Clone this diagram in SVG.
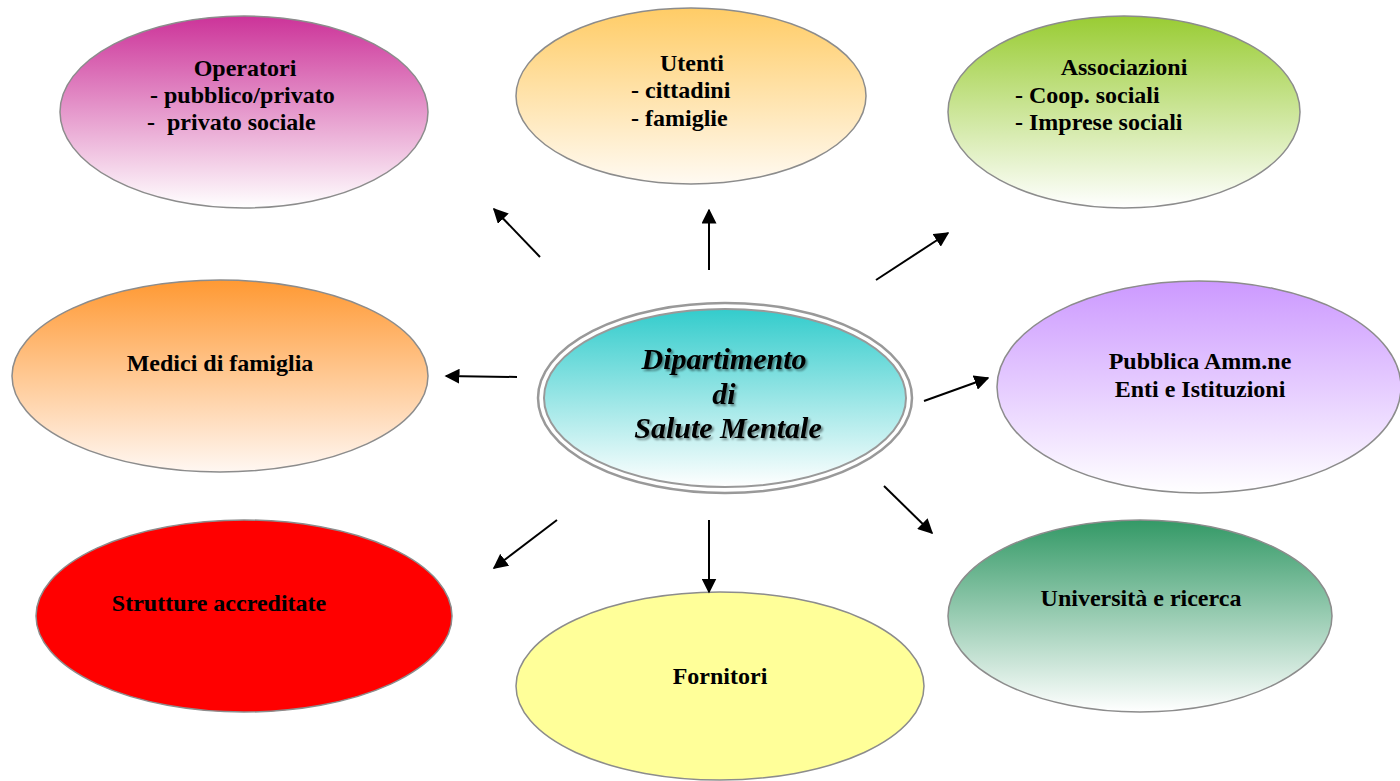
<svg xmlns="http://www.w3.org/2000/svg" width="1400" height="781" viewBox="0 0 1400 781">
  <style>
    .node { stroke: #8c8c8c; stroke-width: 1.5; }
    .lbl { font-family: "Liberation Serif", "Times New Roman", serif; font-weight: bold; font-size: 24px; fill: #000; white-space: pre; }
    .mid { text-anchor: middle; }
    .title { font-family: "Liberation Serif", "Times New Roman", serif; font-weight: bold; font-style: italic; font-size: 30px; fill: #000; text-anchor: middle; }
    .conn line { stroke: #000; stroke-width: 2; marker-end: url(#arrow); }
  </style>
  <defs>
    <marker id="arrow" viewBox="0 0 10 10" refX="9" refY="5" markerWidth="7.5" markerHeight="7.5" orient="auto" markerUnits="strokeWidth">
      <path d="M0,0 L10,5 L0,10 z" fill="#000"/>
    </marker>
    <linearGradient id="gMagenta" x1="0" y1="0" x2="0" y2="1">
      <stop offset="0" stop-color="#cc3399"/><stop offset="1" stop-color="#ffffff"/>
    </linearGradient>
    <linearGradient id="gGold" x1="0" y1="0" x2="0" y2="1">
      <stop offset="0" stop-color="#ffcc66"/><stop offset="1" stop-color="#fffaf2"/>
    </linearGradient>
    <linearGradient id="gLime" x1="0" y1="0" x2="0" y2="1">
      <stop offset="0" stop-color="#99cc33"/><stop offset="1" stop-color="#ffffff"/>
    </linearGradient>
    <linearGradient id="gOrange" x1="0" y1="0" x2="0" y2="1">
      <stop offset="0" stop-color="#ff9933"/><stop offset="1" stop-color="#fff7f2"/>
    </linearGradient>
    <linearGradient id="gLilac" x1="0" y1="0" x2="0" y2="1">
      <stop offset="0" stop-color="#cc99ff"/><stop offset="1" stop-color="#ffffff"/>
    </linearGradient>
    <linearGradient id="gGreen" x1="0" y1="0" x2="0" y2="1">
      <stop offset="0" stop-color="#339966"/><stop offset="1" stop-color="#ffffff"/>
    </linearGradient>
    <linearGradient id="gTeal" x1="0" y1="0" x2="0" y2="1">
      <stop offset="0" stop-color="#33cccc"/><stop offset="1" stop-color="#ffffff"/>
    </linearGradient>
    <filter id="shadow" x="-10%" y="-10%" width="120%" height="130%">
      <feGaussianBlur in="SourceAlpha" stdDeviation="0.8"/>
      <feOffset dx="2" dy="2"/>
      <feComponentTransfer><feFuncA type="linear" slope="0.45"/></feComponentTransfer>
      <feMerge><feMergeNode/><feMergeNode in="SourceGraphic"/></feMerge>
    </filter>
  </defs>

  <rect width="1400" height="781" fill="#ffffff"/>

  <g id="operatori">
    <ellipse class="node" cx="244" cy="112" rx="184" ry="96" fill="url(#gMagenta)"/>
    <text class="lbl mid" x="245" y="76">Operatori</text>
    <text class="lbl" x="144" y="103"> - pubblico/privato</text>
    <text class="lbl" x="147" y="130">-  privato sociale</text>
  </g>

  <g id="utenti">
    <ellipse class="node" cx="691" cy="96" rx="175" ry="88" fill="url(#gGold)"/>
    <text class="lbl mid" x="692" y="71">Utenti</text>
    <text class="lbl" x="631" y="98">- cittadini</text>
    <text class="lbl" x="631" y="126">- famiglie</text>
  </g>

  <g id="associazioni">
    <ellipse class="node" cx="1124" cy="112" rx="176" ry="96" fill="url(#gLime)"/>
    <text class="lbl mid" x="1124" y="75">Associazioni</text>
    <text class="lbl" x="1015" y="103">- Coop. sociali</text>
    <text class="lbl" x="1015" y="130">- Imprese sociali</text>
  </g>

  <g id="medici">
    <ellipse class="node" cx="220" cy="376" rx="208" ry="96" fill="url(#gOrange)"/>
    <text class="lbl mid" x="220" y="371">Medici di famiglia</text>
  </g>

  <g id="pubblica">
    <ellipse class="node" cx="1199" cy="387" rx="202" ry="106" fill="url(#gLilac)"/>
    <text class="lbl mid" x="1200" y="369">Pubblica Amm.ne</text>
    <text class="lbl mid" x="1200" y="397">Enti e Istituzioni</text>
  </g>

  <g id="strutture">
    <ellipse class="node" cx="244" cy="616" rx="208" ry="96" fill="#ff0000"/>
    <text class="lbl mid" x="219" y="611">Strutture accreditate</text>
  </g>

  <g id="fornitori">
    <ellipse class="node" cx="720" cy="686" rx="204" ry="94" fill="#ffff99"/>
    <text class="lbl mid" x="720" y="684">Fornitori</text>
  </g>

  <g id="universita">
    <ellipse class="node" cx="1140" cy="616" rx="192" ry="96" fill="url(#gGreen)"/>
    <text class="lbl mid" x="1141" y="606">Università e ricerca</text>
  </g>

  <g id="dipartimento">
    <ellipse cx="725" cy="398" rx="187" ry="95" fill="#ffffff" stroke="#999999" stroke-width="2.5"/>
    <ellipse cx="725" cy="398" rx="181" ry="89" fill="url(#gTeal)" stroke="#999999" stroke-width="2"/>
    <g filter="url(#shadow)">
      <text class="title" x="724" y="369">Dipartimento</text>
      <text class="title" x="724" y="404">di</text>
      <text class="title" x="728" y="438">Salute Mentale</text>
    </g>
  </g>

  <g id="connectors" class="conn">
    <line x1="540" y1="257" x2="494" y2="209"/>
    <line x1="709" y1="270" x2="709" y2="210"/>
    <line x1="876" y1="280" x2="948" y2="233"/>
    <line x1="517" y1="377" x2="446" y2="376"/>
    <line x1="924" y1="401" x2="988" y2="378"/>
    <line x1="557" y1="520" x2="494" y2="568"/>
    <line x1="709" y1="520" x2="709" y2="592"/>
    <line x1="884" y1="486" x2="932" y2="533"/>
  </g>
</svg>
